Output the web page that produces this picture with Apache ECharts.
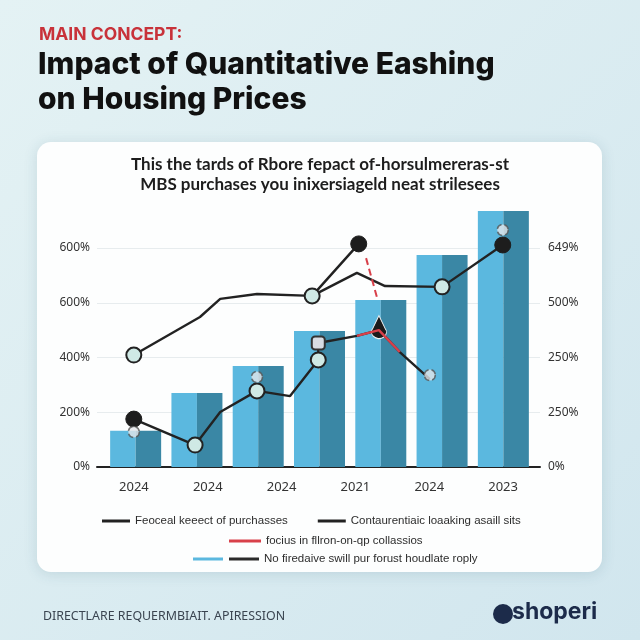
<!DOCTYPE html>
<html>
<head>
<meta charset="utf-8">
<title>Impact of Quantitative Eashing on Housing Prices</title>
<script src="https://cdn.jsdelivr.net/npm/echarts@6/dist/echarts.min.js"></script>
<style>
  html, body { margin: 0; padding: 0; background: #dcedf1; }
  #chart { width: 640px; height: 640px; }
</style>
</head>
<body>
<div id="chart"></div>
<script>
"use strict";

/* ---------- data ---------- */
const yearLabels = ["2024", "2024", "2024", "2021", "2024", "2023"];
const tickValues = [0, 200, 400, 600, 800];
const leftTicks  = ["0%", "200%", "400%", "600%", "600%"];
const rightTicks = ["0%", "250%", "250%", "500%", "649%"];

const barSlots  = ["b1", "b2", "b3", "b4", "b5", "b6", "b7"];
const barValues = [132, 270, 369, 497, 610, 774, 935];

// [slot position, value] — slots are the 7 bars, 0..6
const feocealLine = [[-0.03, 409], [1.05, 548], [1.38, 614], [1.98, 632], [2.88, 625], [3.64, 815]];
const contaurLine = [[2.88, 625], [3.61, 709], [4.07, 661], [5.0, 658], [5.99, 811]];
const housingLine = [[-0.03, 175], [0.97, 80], [1.38, 201], [1.98, 278], [2.52, 259], [2.98, 391],
                     [2.98, 453], [3.61, 479], [3.97, 500], [4.31, 420], [4.80, 321]];
const focusLine   = [[3.61, 479], [3.97, 500], [4.31, 420]];
const focusDash   = [[3.76, 763], [3.95, 610]];
const gearPoints  = [[-0.03, 128], [1.98, 329], [4.80, 336], [5.99, 866]];

// which marker sits on each point
const feocealMarks = ["ring", "", "", "", "ring", "dot"];
const contaurMarks = ["", "", "", "ring", "dot"];
const housingMarks = ["dot", "ring", "", "ring", "", "ring", "shield", "", "pin", "", ""];

const names = {
  feoceal: "Feoceal keeect of purchasses",
  contaur: "Contaurentiaic loaaking asaill sits",
  focus:   "focius in fllron-on-qp collassios",
  bars:    "No firedaive swill pur forust houdlate roply"
};

/* ---------- styles ---------- */
const INK = "#222";
const LEGEND_FONT = "'Liberation Sans', Arial, sans-serif";
// drop shape with the spike on top
const DROP = "path://M10,0 L15.5,13 A7,7 0 1,1 4.5,13 Z";

const markerStyle = {
  ring:   { symbol: "circle", symbolSize: 15, itemStyle: { color: "#cfe9e5", borderColor: INK, borderWidth: 2 } },
  dot:    { symbol: "circle", symbolSize: 16, itemStyle: { color: "#1d1d1d", borderColor: "#1d1d1d", borderWidth: 1 } },
  shield: { symbol: "roundRect", symbolSize: 13, itemStyle: { color: "#d8dce3", borderColor: "#333", borderWidth: 2 } },
  pin:    { symbol: DROP, symbolSize: [15, 23], symbolOffset: [0, -3],
            itemStyle: { color: "#1b1b1b", borderColor: "#f2f2f2", borderWidth: 1 } }
};

function withMarks(points, marks) {
  return points.map((p, i) => {
    const m = markerStyle[marks[i]];
    return m ? Object.assign({ value: p }, m) : { value: p, symbol: "none" };
  });
}

function tickText(list) {
  return v => {
    const i = tickValues.indexOf(v);
    return i < 0 ? "" : list[i];
  };
}

const lineBase = {
  type: "line", xAxisIndex: 2, yAxisIndex: 2, clip: false, z: 4,
  showSymbol: true, animation: false, silent: true,
  lineStyle: { color: INK, width: 2.4 }, itemStyle: { color: INK }
};

/* ---------- chart ---------- */
const chart = echarts.init(document.getElementById("chart"), null, { renderer: "canvas" });

chart.setOption({
  animation: false,
  backgroundColor: {
    type: "linear", x: 0, y: 0, x2: 1, y2: 1,
    colorStops: [{ offset: 0, color: "#e4f2f4" }, { offset: 1, color: "#d1e6ee" }]
  },
  graphic: [
    {
      type: "rect", z: 0,
      shape: { x: 37, y: 142, width: 565, height: 430, r: 14 },
      style: { fill: "#fdfefe", shadowBlur: 14, shadowColor: "rgba(40,90,110,0.15)", shadowOffsetY: 2 }
    },
    {
      type: "circle", z: 5,
      shape: { cx: 503, cy: 614, r: 10 },
      style: { fill: "#1c2b4a" }
    },
    {
      type: "text", z: 5, left: 512, top: 601,
      style: { text: "shoperi", fill: "#1c2b4a", font: "bold 23px Inter, 'Noto Sans', sans-serif" }
    }
  ],
  title: [
    {
      text: "MAIN CONCEPT:", left: 34, top: 21,
      textStyle: { color: "#c8323a", fontSize: 17.5, fontWeight: 700, fontFamily: "Inter, 'Noto Sans', sans-serif" }
    },
    {
      text: "Impact of Quantitative Eashing\non Housing Prices", left: 33, top: 42,
      textStyle: { color: "#111", fontSize: 30, fontWeight: 800, lineHeight: 35, fontFamily: "Inter, 'Noto Sans', sans-serif" }
    },
    {
      text: "This the tards of Rbore fepact of-horsulmereras-st\nMBS purchases you inixersiageld neat strilesees",
      left: "center", top: 150,
      textStyle: { color: "#1d1d1d", fontSize: 17, fontWeight: 700, lineHeight: 20, fontFamily: "Lato, 'Noto Sans', sans-serif" }
    },
    {
      text: "DIRECTLARE REQUERMBIAIT. APIRESSION", left: 38, top: 605,
      textStyle: { color: "#3a4450", fontSize: 12.4, fontWeight: 400, fontFamily: "'Noto Sans', sans-serif" }
    }
  ],
  legend: [
    {
      left: 97, top: 510, itemGap: 30, itemWidth: 28, itemHeight: 3, icon: "rect",
      selectedMode: false,
      textStyle: { color: "#2d2d2d", fontSize: 11.5, fontFamily: LEGEND_FONT },
      data: [names.feoceal, names.contaur]
    },
    {
      left: 224, top: 530, itemWidth: 32, itemHeight: 3, icon: "rect",
      selectedMode: false,
      textStyle: { color: "#2d2d2d", fontSize: 11.5, fontFamily: LEGEND_FONT },
      data: [names.focus]
    },
    {
      left: 188, top: 548, itemGap: 1, itemWidth: 30, itemHeight: 3, icon: "rect",
      selectedMode: false,
      textStyle: { color: "#2d2d2d", fontSize: 11.5, fontFamily: LEGEND_FONT },
      data: ["\u200b", { name: names.bars, itemStyle: { color: "#2b2b2b" } }]
    }
  ],
  grid: [
    { left: 97, right: 100, top: 248, bottom: 173 },
    { left: 105, right: 106, top: 248, bottom: 173 }
  ],
  xAxis: [
    {
      gridIndex: 0, type: "category", data: yearLabels,
      axisLine: { lineStyle: { color: INK, width: 2 } },
      axisTick: { alignWithLabel: true, length: 6, lineStyle: { color: INK, width: 1.5 } },
      axisLabel: { color: "#333", fontSize: 13, margin: 14, fontFamily: "'Noto Sans', sans-serif" }
    },
    { gridIndex: 1, type: "category", data: barSlots, show: false },
    { gridIndex: 1, type: "value", min: -0.5, max: 6.5, show: false }
  ],
  yAxis: [
    {
      gridIndex: 0, type: "value", position: "left", min: 0, max: 800, interval: 200,
      axisLine: { show: false }, axisTick: { show: false },
      axisLabel: { formatter: tickText(leftTicks), color: "#333", fontSize: 12, margin: 7, fontFamily: "'Noto Sans', sans-serif" },
      splitLine: { lineStyle: { color: "#e7ecee", width: 1 } }
    },
    {
      gridIndex: 0, type: "value", position: "right", min: 0, max: 800, interval: 200,
      axisLine: { show: false }, axisTick: { show: false },
      axisLabel: { formatter: tickText(rightTicks), color: "#333", fontSize: 12, margin: 8, fontFamily: "'Noto Sans', sans-serif" },
      splitLine: { show: false }
    },
    { gridIndex: 1, type: "value", min: 0, max: 800, show: false }
  ],
  series: [
    {
      name: "\u200b", type: "bar", xAxisIndex: 1, yAxisIndex: 2, data: barValues,
      barWidth: 25.5, barGap: "0%", clip: false, silent: true,
      itemStyle: { color: "#5bb8df" }
    },
    {
      name: names.bars, type: "bar", xAxisIndex: 1, yAxisIndex: 2, data: barValues,
      barWidth: 25.5, barGap: "0%", clip: false, silent: true,
      itemStyle: { color: "#3a87a5" }
    },
    Object.assign({}, lineBase, { name: names.feoceal, data: withMarks(feocealLine, feocealMarks) }),
    Object.assign({}, lineBase, { name: names.contaur, data: withMarks(contaurLine, contaurMarks) }),
    Object.assign({}, lineBase, { name: "housing", data: withMarks(housingLine, housingMarks) }),
    Object.assign({}, lineBase, {
      name: names.focus, data: focusLine, symbol: "none", z: 5,
      lineStyle: { color: "#d8404a", width: 2.4 }, itemStyle: { color: "#d8404a" }
    }),
    Object.assign({}, lineBase, {
      name: "focusDash", data: focusDash, symbol: "none", z: 5,
      lineStyle: { color: "#d8404a", width: 2, type: [7, 4] }
    }),
    {
      name: "gears", type: "scatter", xAxisIndex: 2, yAxisIndex: 2, data: gearPoints,
      symbol: "circle", symbolSize: 11, clip: false, z: 6, silent: true,
      itemStyle: { color: "#e4e6ea", borderColor: "#555", borderWidth: 1.5, borderType: "dashed" }
    }
  ]
});
</script>
</body>
</html>
